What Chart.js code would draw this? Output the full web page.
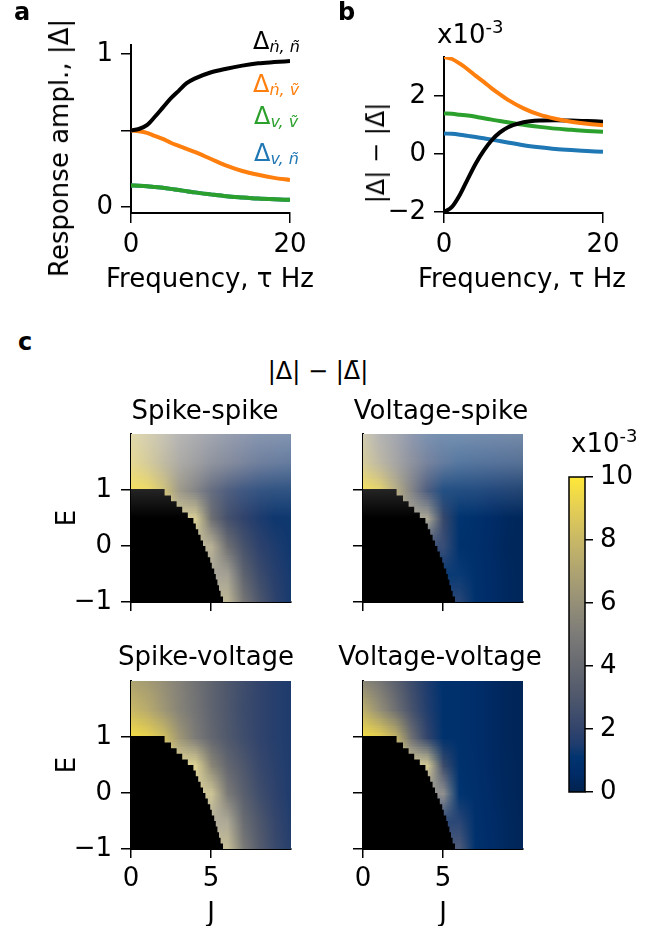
<!DOCTYPE html>
<html>
<head>
<meta charset="utf-8">
<script src="https://cdn.jsdelivr.net/npm/chart.js@4.4.1/dist/chart.umd.min.js"></script>
<style>
body { margin: 0; background: #fff; }
#fig { position: relative; width: 671px; height: 926px; overflow: hidden; font-family: 'DejaVu Sans'; color: #000; background: #fff; }
#fig canvas { position: absolute; }
.t { position: absolute; font-size: 26px; line-height: 1; white-space: nowrap; }
.c { transform: translateX(-50%); }
.r { transform: translate(-50%, -50%) rotate(-90deg); }
.lab { font-weight: bold; font-size: 24px; }
.d { font-size: 24px; }
.d span { font-size: 16px; font-style: italic; position: relative; top: 3px; }
.x span { font-size: 18px; position: relative; top: -10px; }
.m { font-size: 24px; }
</style>
</head>
<body>
<div id="fig">
  <div class="t lab" style="left:14px;top:0px">a</div>
  <div class="t lab" style="left:338px;top:0px">b</div>
  <div class="t lab" style="left:18px;top:330px">c</div>

  <div class="t d" style="left:253px;top:29px;color:#000">Δ<span>ṅ, ñ</span></div>
  <div class="t d" style="left:253px;top:72px;color:#ff7f0e">Δ<span>ṅ, ṽ</span></div>
  <div class="t d" style="left:254px;top:104px;color:#2ca02c">Δ<span>v, ṽ</span></div>
  <div class="t d" style="left:254px;top:141px;color:#1f77b4">Δ<span>v, ñ</span></div>

  <div class="t r" style="left:59px;top:148px">Response ampl., |Δ|</div>
  <div class="t c" style="left:210px;top:265px">Frequency, τ Hz</div>
  <div class="t r m" style="left:376px;top:153px">|Δ| − |Δ̄|</div>
  <div class="t c" style="left:522px;top:265px">Frequency, τ Hz</div>

  <div class="t x" style="left:437px;top:21px">x10<span>-3</span></div>
  <div class="t x" style="left:571px;top:430px">x10<span>-3</span></div>

  <div class="t c m" style="left:318px;top:359px">|Δ| − |Δ̄|</div>
  <div class="t c" style="left:205px;top:397px">Spike-spike</div>
  <div class="t c" style="left:441px;top:397px">Voltage-spike</div>
  <div class="t c" style="left:206px;top:643px">Spike-voltage</div>
  <div class="t c" style="left:440px;top:643px">Voltage-voltage</div>
  <div class="t r" style="left:66px;top:518px">E</div>
  <div class="t r" style="left:66px;top:765px">E</div>
  <div class="t c" style="left:211px;top:899px">J</div>
  <div class="t c" style="left:443px;top:899px">J</div>
</div>
<script>
// panel a / b : frequency axis
const freq = [0, 1, 2, 3, 4, 5, 6, 7, 8, 10, 12, 14, 16, 18, 20];

// panel a: response amplitudes |Δ|
const ampNN = [0.50, 0.51, 0.535, 0.59, 0.65, 0.71, 0.76, 0.81, 0.84, 0.88, 0.905, 0.925, 0.94, 0.948, 0.955];
const ampNV = [0.50, 0.495, 0.485, 0.465, 0.445, 0.42, 0.40, 0.38, 0.36, 0.315, 0.27, 0.235, 0.21, 0.19, 0.176];
const ampVV = [0.14, 0.138, 0.135, 0.13, 0.125, 0.118, 0.11, 0.103, 0.095, 0.082, 0.07, 0.062, 0.055, 0.05, 0.046];
const ampVN = [0.14, 0.138, 0.135, 0.13, 0.125, 0.118, 0.11, 0.103, 0.095, 0.082, 0.07, 0.062, 0.055, 0.05, 0.046];

// panel b: |Δ| - |Δbar|, in units of 1e-3
const diffNN = [-2.00, -1.82, -1.40, -0.85, -0.32, 0.12, 0.48, 0.74, 0.92, 1.10, 1.16, 1.17, 1.16, 1.14, 1.12];
const diffNV = [3.35, 3.28, 3.12, 2.92, 2.70, 2.49, 2.27, 2.07, 1.88, 1.58, 1.36, 1.22, 1.12, 1.05, 1.00];
const diffVV = [1.40, 1.39, 1.36, 1.33, 1.29, 1.24, 1.19, 1.14, 1.10, 1.01, 0.94, 0.88, 0.84, 0.80, 0.77];
const diffVN = [0.71, 0.70, 0.67, 0.63, 0.59, 0.55, 0.50, 0.45, 0.40, 0.31, 0.24, 0.18, 0.14, 0.11, 0.08];

const freqTicks = [0, 20];
const ampTicks = [0, 0.5, 1];
const ampLabels = ['0', '', '1'];
const diffTicks = [-2, 0, 2];

// panel c: heatmaps, value in units of 1e-3, rows E (top to bottom), columns J
const gridJ = [0, 1, 2, 3, 4, 5, 6, 7, 8, 9, 10];
const gridE = [2, 1.5, 1, 0.5, 0, -0.5, -1];
const n = null;
const spikeSpike = [
  [8.0, 7.2, 6.2, 4.9, 4.0, 3.2, 2.5, 2.0, 1.6, 1.5, 1.4],
  [8.6, 7.7, 6.5, 5.3, 4.4, 3.4, 2.8, 2.2, 1.7, 1.5, 1.4],
  [9.6, 9.3, 8.1, 5.8, 4.5, 3.0, 2.1, 1.6, 1.4, 1.3, 1.3],
  [n, n, n, n, 8.0, 4.4, 2.7, 2.0, 1.5, 1.3, 1.3],
  [n, n, n, n, n, 6.5, 4.4, 2.8, 1.9, 1.5, 1.3],
  [n, n, n, n, n, n, 5.6, 3.7, 2.4, 1.7, 1.4],
  [n, n, n, n, n, n, 6.8, 4.8, 3.0, 1.9, 1.4]
];
const voltageSpike = [
  [6.8, 4.8, 3.5, 2.0, 1.3, 1.0, 1.0, 0.8, 0.6, 0.5, 0.4],
  [7.7, 6.3, 4.9, 3.3, 2.0, 1.4, 1.1, 0.8, 0.6, 0.5, 0.4],
  [9.6, 9.0, 7.0, 4.5, 2.0, 1.1, 1.0, 0.9, 0.6, 0.45, 0.35],
  [n, n, n, n, 6.0, 2.2, 1.1, 0.9, 0.6, 0.4, 0.3],
  [n, n, n, n, n, 1.8, 1.0, 0.85, 0.55, 0.35, 0.3],
  [n, n, n, n, n, n, 1.0, 0.9, 0.6, 0.4, 0.3],
  [n, n, n, n, n, n, 1.5, 1.0, 0.6, 0.4, 0.3]
];
const spikeVoltage = [
  [7.0, 6.6, 6.0, 5.3, 4.5, 3.7, 3.0, 2.5, 2.0, 1.7, 1.5],
  [8.0, 7.4, 6.4, 5.4, 4.6, 3.7, 3.0, 2.4, 2.0, 1.7, 1.5],
  [9.6, 9.2, 8.3, 6.4, 5.0, 3.9, 3.1, 2.5, 2.0, 1.7, 1.5],
  [n, n, n, n, 8.3, 5.6, 3.9, 3.0, 2.2, 1.8, 1.5],
  [n, n, n, n, n, 7.5, 5.0, 3.5, 2.5, 1.9, 1.5],
  [n, n, n, n, n, n, 6.0, 4.2, 3.0, 2.1, 1.6],
  [n, n, n, n, n, n, 7.2, 5.0, 3.3, 2.3, 1.7]
];
const voltageVoltage = [
  [5.6, 4.8, 3.6, 2.4, 1.5, 1.0, 0.9, 0.7, 0.5, 0.3, 0.2],
  [7.5, 6.0, 4.4, 2.8, 1.6, 1.0, 0.9, 0.7, 0.5, 0.3, 0.2],
  [9.6, 9.1, 7.8, 4.4, 2.0, 1.0, 0.9, 0.7, 0.5, 0.3, 0.2],
  [n, n, n, n, 7.8, 2.4, 1.0, 0.8, 0.5, 0.35, 0.2],
  [n, n, n, n, n, 4.8, 1.1, 0.85, 0.55, 0.35, 0.2],
  [n, n, n, n, n, n, 1.5, 0.9, 0.6, 0.4, 0.25],
  [n, n, n, n, n, n, 2.4, 1.0, 0.65, 0.4, 0.25]
];
// white veil on the top row of maps, per E row
const topFade = [0.46, 0.34, 0.14, 0, 0, 0, 0];

// black (undefined) region: row bottoms in E and right edge in J
const maskE = [-1.0, -0.9, -0.8, -0.7, -0.6, -0.5, -0.4, -0.3, -0.2, -0.1, 0.0, 0.1, 0.2, 0.3, 0.4, 0.5, 0.6, 0.7, 0.8, 0.9];
const maskJ = [5.75, 5.6, 5.5, 5.4, 5.3, 5.2, 5.05, 4.95, 4.8, 4.65, 4.5, 4.35, 4.2, 4.05, 3.9, 3.55, 3.2, 2.85, 2.5, 2.1];
const maskTop = 1.02;

const jTicks = [0, 5];
const eTicks = [-1, 0, 1];
const cbarTicks = [0, 2, 4, 6, 8, 10];

// cividis-like colour map, value 0..10
const cividis = [
  [0, 0, 34, 78], [0.6, 0, 44, 104], [1.1, 0, 52, 112], [1.5, 30, 60, 110], [2, 50, 68, 108],
  [3, 78, 87, 108], [4, 102, 105, 112], [5, 124, 123, 120], [6, 149, 143, 119],
  [7, 174, 163, 113], [8, 200, 184, 102], [9, 228, 206, 85], [10, 254, 232, 56]
];

function cmap(v) {
  v = Math.max(0, Math.min(10, v));
  for (let i = 1; i < cividis.length; i++) {
    const a = cividis[i - 1], b = cividis[i];
    if (v <= b[0]) {
      const t = (v - a[0]) / (b[0] - a[0]);
      return [1, 2, 3].map(k => Math.round(a[k] + t * (b[k] - a[k])));
    }
  }
  return cividis[cividis.length - 1].slice(1);
}

const fig = document.getElementById('fig');
Chart.defaults.font.family = "'DejaVu Sans'";
Chart.defaults.font.size = 26;
Chart.defaults.color = '#000';

function fmt(v) { return String(v).replace('-', '\u2212'); }

function lin(min, max, ticks, o) {
  return {
    type: 'linear', min: min, max: max, position: o.pos, z: 1,
    afterBuildTicks: s => { s.ticks = ticks.map(v => ({ value: v })); },
    afterFit: s => { if (o.w != null) s.width = o.w; if (o.h != null) s.height = o.h; },
    border: { display: o.border !== false, color: '#000', width: 2 },
    grid: { drawOnChartArea: false, drawTicks: true, tickLength: o.tl || 10, color: '#000', lineWidth: 1.5 },
    ticks: {
      display: o.labels !== false, padding: o.pad || 8, color: '#000', font: { size: 26 },
      maxRotation: 0, autoSkip: false,
      callback: o.cb || (v => fmt(v))
    },
    title: { display: false }
  };
}

function mk(box, cfg) {
  const c = document.createElement('canvas');
  c.width = box.w; c.height = box.h;
  c.style.left = box.x + 'px'; c.style.top = box.y + 'px';
  fig.insertBefore(c, fig.firstChild);
  cfg.options.responsive = false;
  cfg.options.animation = false;
  cfg.options.devicePixelRatio = 1;
  cfg.options.layout = { padding: box.pad };
  cfg.options.plugins = Object.assign({ legend: { display: false }, tooltip: { enabled: false } }, cfg.options.plugins || {});
  return new Chart(c, cfg);
}

function line(vals, color) {
  return {
    data: freq.map((f, i) => ({ x: f, y: vals[i] })),
    borderColor: color, borderWidth: 4, pointRadius: 0, fill: false,
    cubicInterpolationMode: 'monotone', borderCapStyle: 'butt'
  };
}

// panel a
mk({ x: 0, y: 0, w: 320, h: 293, pad: { left: 0, top: 45, right: 30, bottom: 0 } }, {
  type: 'line',
  data: { datasets: [
    line(ampNN, '#000000'), line(ampNV, '#ff7f0e'), line(ampVV, '#2ca02c'), line(ampVN, '#1f77b4')
  ] },
  options: { scales: {
    x: lin(0, 20, freqTicks, { pos: 'bottom', h: 80, pad: 7 }),
    y: lin(-0.04, 1.06, ampTicks, { pos: 'left', w: 131, pad: 8, cb: v => ampLabels[ampTicks.indexOf(v)] })
  } }
});

// panel b
mk({ x: 340, y: 0, w: 293, h: 293, pad: { left: 0, top: 57, right: 30, bottom: 0 } }, {
  type: 'line',
  data: { datasets: [
    line(diffNV, '#ff7f0e'), line(diffNN, '#000000'), line(diffVV, '#2ca02c'), line(diffVN, '#1f77b4')
  ] },
  options: { scales: {
    x: lin(0, 20, freqTicks, { pos: 'bottom', h: 80, pad: 7 }),
    y: lin(-2.03, 3.35, diffTicks, { pos: 'left', w: 104, pad: 8 })
  } }
});

// heatmap drawing
const hiddenWhite = 0.45; // nodes hidden under the black region, paler at the edge (scaled by value)
const edgeWhite = 0.38;   // first visible node next to the black region (scaled by value)
const heatPlugin = {
  id: 'heat',
  beforeDatasetsDraw(chart, args, o) {
    const { ctx, chartArea: a } = chart;
    const x = chart.scales.x, y = chart.scales.y;
    const nx = gridJ.length, ny = gridE.length;
    const off = document.createElement('canvas');
    off.width = nx; off.height = ny;
    const oc = off.getContext('2d');
    const img = oc.createImageData(nx, ny);
    for (let r = 0; r < ny; r++) {
      let first = 0;
      while (o.grid[r][first] == null && first < nx - 1) first++;
      for (let c = 0; c < nx; c++) {
        const k = Math.max(c, first);
        const v = o.grid[r][k];
        let col = cmap(v);
        const w = (c < first ? hiddenWhite : (c === first && first > 0 ? edgeWhite : 0)) * v / 10;
        col = col.map(ch => Math.round(ch + (255 - ch) * w));
        const p = (r * nx + c) * 4;
        img.data[p] = col[0]; img.data[p + 1] = col[1]; img.data[p + 2] = col[2]; img.data[p + 3] = 255;
      }
    }
    oc.putImageData(img, 0, 0);
    ctx.save();
    ctx.beginPath(); ctx.rect(a.left, a.top, a.width, a.height); ctx.clip();
    ctx.imageSmoothingEnabled = true;
    ctx.imageSmoothingQuality = 'low';
    const dx = gridJ[1] - gridJ[0], dy = gridE[0] - gridE[1];
    const x0 = x.getPixelForValue(gridJ[0] - dx / 2), x1 = x.getPixelForValue(gridJ[nx - 1] + dx / 2);
    const y0 = y.getPixelForValue(gridE[0] + dy / 2), y1 = y.getPixelForValue(gridE[ny - 1] - dy / 2);
    ctx.drawImage(off, x0, y0, x1 - x0, y1 - y0);

    // black region
    ctx.fillStyle = '#000';
    ctx.beginPath();
    const yb = y.getPixelForValue(maskE[0] - 0.2);
    ctx.moveTo(x.getPixelForValue(-0.5), yb);
    for (let i = 0; i < maskE.length; i++) {
      const top = i + 1 < maskE.length ? maskE[i + 1] : maskTop;
      ctx.lineTo(x.getPixelForValue(maskJ[i]), i === 0 ? yb : y.getPixelForValue(maskE[i]));
      ctx.lineTo(x.getPixelForValue(maskJ[i]), y.getPixelForValue(top));
    }
    ctx.lineTo(x.getPixelForValue(-0.5), y.getPixelForValue(maskTop));
    ctx.closePath();
    ctx.fill();

    if (o.fade) {
      const ya = y.getPixelForValue(gridE[0]), yz = y.getPixelForValue(gridE[ny - 1]);
      const g = ctx.createLinearGradient(0, ya, 0, yz);
      gridE.forEach((e, i) => {
        g.addColorStop((y.getPixelForValue(e) - ya) / (yz - ya), 'rgba(255,255,255,' + o.fade[i] + ')');
      });
      ctx.fillStyle = g;
      ctx.fillRect(a.left, a.top, a.width, a.height);
    }
    ctx.restore();
  }
};

function heat(box, grid, o) {
  return mk(box, {
    type: 'scatter',
    data: { datasets: [] },
    options: {
      plugins: { heat: { grid: grid, fade: o.fade } },
      scales: {
        x: lin(0, 10, jTicks, { pos: 'bottom', h: o.hx, tl: 9, pad: 6, labels: o.xl }),
        y: lin(-1, 2, eTicks, { pos: 'left', w: o.wy, tl: 10, pad: 9, labels: o.yl })
      }
    },
    plugins: [heatPlugin]
  });
}

heat({ x: 0, y: 404, w: 306, h: 228, pad: { left: 0, top: 30, right: 15, bottom: 0 } }, spikeSpike,
  { fade: topFade, hx: 30, wy: 131, xl: false, yl: true });
heat({ x: 333, y: 404, w: 205, h: 228, pad: { left: 0, top: 30, right: 15, bottom: 0 } }, voltageSpike,
  { fade: topFade, hx: 30, wy: 30, xl: false, yl: false });
heat({ x: 0, y: 651, w: 306, h: 277, pad: { left: 0, top: 30, right: 15, bottom: 0 } }, spikeVoltage,
  { fade: null, hx: 79, wy: 131, xl: true, yl: true });
heat({ x: 333, y: 651, w: 205, h: 277, pad: { left: 0, top: 30, right: 15, bottom: 0 } }, voltageVoltage,
  { fade: null, hx: 79, wy: 30, xl: true, yl: false });

// colour bar
const cbarPlugin = {
  id: 'cbar',
  beforeDatasetsDraw(chart) {
    const { ctx, chartArea: a } = chart;
    const y = chart.scales.y;
    const g = ctx.createLinearGradient(0, y.getPixelForValue(0), 0, y.getPixelForValue(10));
    cividis.forEach(s => { const c = s.slice(1); g.addColorStop(s[0] / 10, 'rgb(' + c.join(',') + ')'); });
    ctx.save();
    ctx.fillStyle = g;
    ctx.fillRect(a.left, a.top, a.width, a.height);
    ctx.lineWidth = 1.5; ctx.strokeStyle = '#000';
    ctx.strokeRect(a.left, a.top, a.width, a.height);
    ctx.restore();
  }
};
mk({ x: 560, y: 447, w: 85, h: 375, pad: { left: 9, top: 30, right: 0, bottom: 30 } }, {
  type: 'scatter',
  data: { datasets: [] },
  options: { scales: {
    x: { type: 'linear', min: 0, max: 1, display: false },
    y: lin(0, 10, cbarTicks, { pos: 'right', w: 60, tl: 8, pad: 7, border: false })
  } },
  plugins: [cbarPlugin]
});
</script>
</body>
</html>
